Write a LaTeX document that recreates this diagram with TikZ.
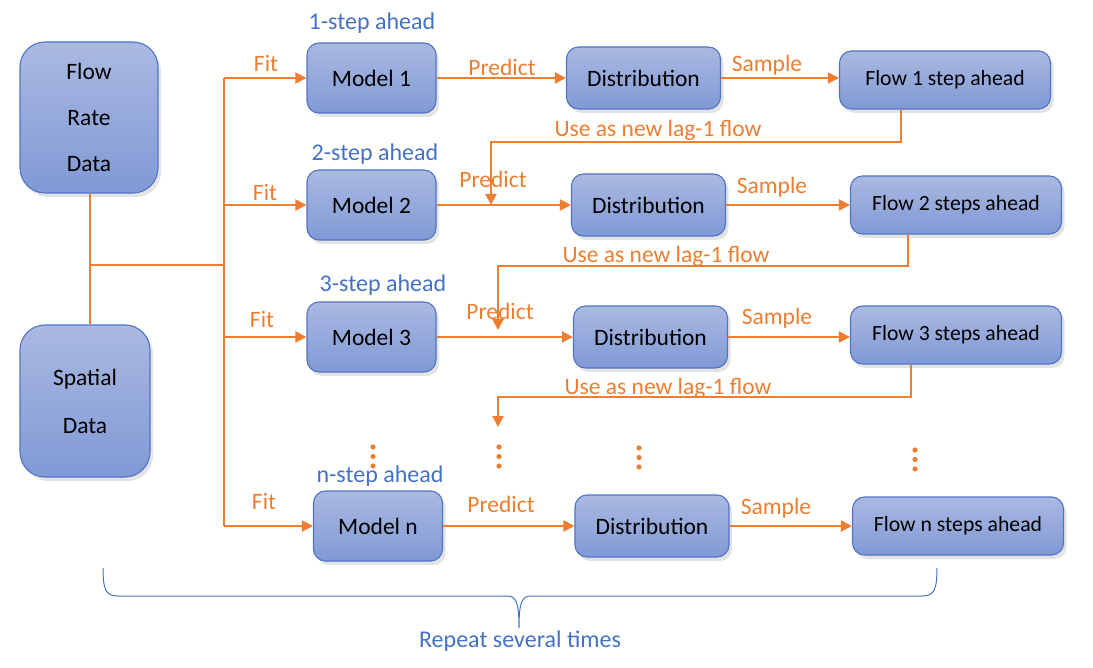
\documentclass[tikz,border=0pt]{standalone}
\usepackage{fontspec}
\setmainfont{Carlito}
\usetikzlibrary{arrows.meta,shadows}
\definecolor{accent}{HTML}{ED7D31}
\definecolor{steptext}{HTML}{4472C4}
\definecolor{boxtop}{HTML}{AAB9E1}
\definecolor{boxbottom}{HTML}{8099D5}
\definecolor{boxline}{HTML}{4F74C6}
\begin{document}
\begin{tikzpicture}[x=1pt,y=-1pt]
\tikzstyle{every node}+=[inner sep=0pt]
\tikzstyle{block}=[draw=boxline, line width=1.1pt, rounded corners=12pt, top color=boxtop, bottom color=boxbottom, drop shadow={shadow xshift=3pt, shadow yshift=-4pt, opacity=0.22}, align=center, font=\fontsize{23.5}{27}\selectfont]
\tikzstyle{databox}=[block, rounded corners=25pt]
\tikzstyle{modelbox}=[block, minimum width=129pt, minimum height=70pt]
\tikzstyle{distbox}=[block, minimum width=154pt, minimum height=62pt]
\tikzstyle{flowbox}=[block, minimum width=211pt, minimum height=58pt, font=\fontsize{21.7}{25}\selectfont]
\tikzstyle{steplabel}=[text=steptext, font=\fontsize{24}{28}\selectfont]
\tikzstyle{actlabel}=[text=accent, font=\fontsize{23.5}{27}\selectfont]
\tikzstyle{link}=[draw=accent, line width=2pt]
\tikzstyle{arr}=[link, -{Triangle[length=11pt,width=11pt]}]
\useasboundingbox (0,0) rectangle (1093,668);
% input data
\node [databox, minimum width=138pt, minimum height=151pt] (frd) at (89,117.5) {Flow\\[19pt]Rate\\[19pt]Data};
\node [databox, minimum width=130pt, minimum height=152pt] (spd) at (85,401) {Spatial\\[21pt]Data};
% models
\node [modelbox] (m1) at (371.5,78) {Model 1};
\node [modelbox] (m2) at (371.5,205) {Model 2};
\node [modelbox] (m3) at (371.5,337) {Model 3};
\node [modelbox] (mn) at (378,526) {Model n};
\node [steplabel] (s1) at (372,23) {1-step ahead};
\node [steplabel] (s2) at (375,154) {2-step ahead};
\node [steplabel] (s3) at (383,285) {3-step ahead};
\node [steplabel] (sn) at (380,476) {n-step ahead};
% distributions
\node [distbox] (d1) at (643.5,78) {Distribution};
\node [distbox] (d2) at (648.5,205) {Distribution};
\node [distbox] (d3) at (650.5,337) {Distribution};
\node [distbox] (dn) at (652,526) {Distribution};
% flows
\node [flowbox] (f1) at (945,80) {Flow 1 step ahead};
\node [flowbox] (f2) at (956,205) {Flow 2 steps ahead};
\node [flowbox] (f3) at (956,335) {Flow 3 steps ahead};
\node [flowbox] (fn) at (958,526) {Flow n steps ahead};
% fit
\coordinate (bus) at (224,0);
\coordinate (join) at (90,265);
\draw [link] (frd.south -| join) -- (spd.north -| join);
\draw [link] (join) -- (join -| bus);
\draw [link] (m1.west -| bus) -- (mn.west -| bus);
\draw [arr] (m1.west -| bus) -- (m1.west);
\draw [arr] (m2.west -| bus) -- (m2.west);
\draw [arr] (m3.west -| bus) -- (m3.west);
\draw [arr] (mn.west -| bus) -- (mn.west);
\node [actlabel] (fit1) at (266,64) {Fit};
\node [actlabel] (fit2) at (265,193) {Fit};
\node [actlabel] (fit3) at (262,320) {Fit};
\node [actlabel] (fitn) at (264,502) {Fit};
% predict
\draw [arr] (m1.east) -- (d1.west);
\draw [arr] (m2.east) -- (d2.west);
\draw [arr] (m3.east) -- (d3.west);
\draw [arr] (mn.east) -- (dn.west);
\node [actlabel] (p1) at (502,67) {Predict};
\node [actlabel] (p2) at (493,179) {Predict};
\node [actlabel] (p3) at (500,311) {Predict};
\node [actlabel] (pn) at (501,504) {Predict};
% sample
\draw [arr] (d1.east) -- (f1.west |- d1.east);
\draw [arr] (d2.east) -- (f2.west);
\draw [arr] (d3.east) -- (f3.west |- d3.east);
\draw [arr] (dn.east) -- (fn.west);
\node [actlabel] (q1) at (767,65) {Sample};
\node [actlabel] (q2) at (772,187) {Sample};
\node [actlabel] (q3) at (777,318) {Sample};
\node [actlabel] (qn) at (776,508) {Sample};
% feed back
\coordinate (in2) at (491,205);
\coordinate (in3) at (498,330);
\coordinate (inn) at (498,427);
\draw [arr] ([xshift=-44pt]f1.south) -- ++(0,32) -| (in2);
\draw [arr] ([xshift=-48pt]f2.south) -- ++(0,31) -| (in3);
\draw [arr] ([xshift=-45pt]f3.south) -- ++(0,32) -| (inn);
\node [actlabel] (u1) at (658,130) {Use as new lag-1 flow};
\node [actlabel] (u2) at (666,256) {Use as new lag-1 flow};
\node [actlabel] (u3) at (668,388) {Use as new lag-1 flow};
% dots
\foreach \x/\y in {373/447, 499/447, 639/448, 915/450}
  \foreach \d in {0,9.5,19}
    \fill [accent] (\x,\y+\d) circle (2.6pt);
% repeat
\draw [steptext, line width=1pt] (103,568) .. controls (103,590) and (106,596) .. (118,596) -- (507,596) .. controls (516,596) and (519,602) .. (519,628) .. controls (519,602) and (522,596) .. (531,596) -- (922,596) .. controls (934,596) and (937,590) .. (937,568);
\node [steplabel] (rep) at (520,641) {Repeat several times};
\end{tikzpicture}
\end{document}
